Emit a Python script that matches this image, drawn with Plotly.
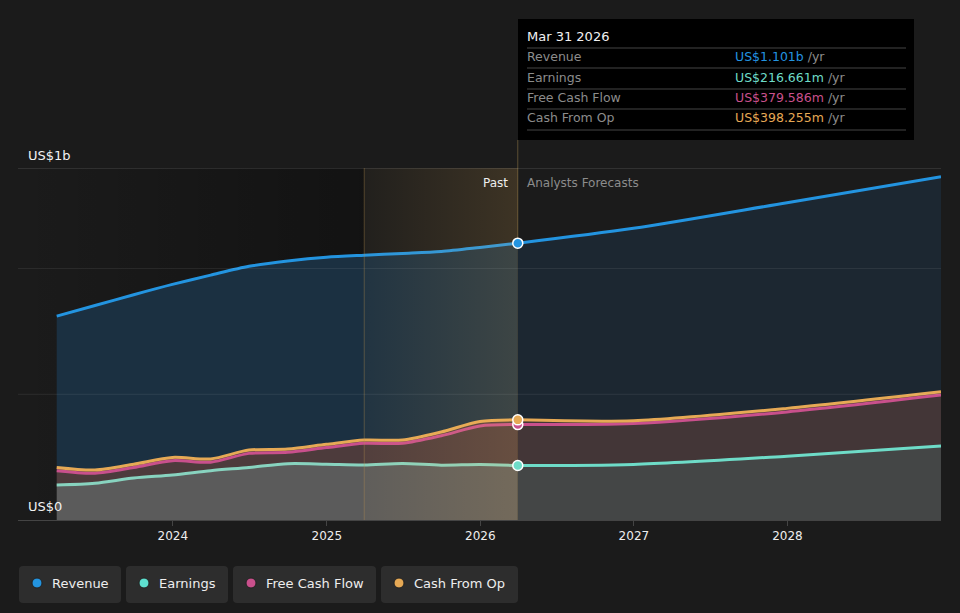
import pandas as pd
import plotly.graph_objects as go

# --- Data (US$ billions) ---
PAST_DATES = [
    "2023-03-31", "2023-06-30", "2023-09-30", "2023-12-31", "2024-03-31",
    "2024-06-30", "2024-09-30", "2024-12-31", "2025-03-31", "2025-06-30",
    "2025-09-30", "2025-12-31", "2026-03-31",
]
REVENUE_PAST = [0.811, 0.853, 0.896, 0.937, 0.974, 1.009, 1.030, 1.045, 1.053, 1.060, 1.068, 1.084, 1.101]
EARNINGS_PAST = [0.139, 0.146, 0.167, 0.179, 0.196, 0.209, 0.224, 0.222, 0.219, 0.225, 0.218, 0.221, 0.216661]
FCF_PAST = [0.196, 0.186, 0.209, 0.236, 0.230, 0.265, 0.269, 0.288, 0.305, 0.305, 0.335, 0.374, 0.379586]
CFO_PAST = [0.209, 0.199, 0.222, 0.249, 0.243, 0.278, 0.282, 0.301, 0.318, 0.318, 0.350, 0.392, 0.398255]

FORECAST_DATES = ["2026-03-31", "2026-12-31", "2027-12-31", "2028-12-31"]
REVENUE_FC = [1.101, 1.160, 1.262, 1.365]
EARNINGS_FC = [0.216661, 0.221, 0.254, 0.294]
FCF_FC = [0.379586, 0.384, 0.430, 0.497]
CFO_FC = [0.398255, 0.395, 0.444, 0.510]

YEAR_TICKS = ["2024-01-01", "2025-01-01", "2026-01-01", "2027-01-01", "2028-01-01"]
YEAR_LABELS = ["2024", "2025", "2026", "2027", "2028"]
SERIES = ["Revenue", "Earnings", "Free Cash Flow", "Cash From Op"]

X_RANGE = ["2022-12-29", "2028-12-31"]
Y_MAX = 1.4
PAST_START = "2025-03-31"   # start of highlighted "Past" window
NOW = PAST_DATES[-1]

# --- Colours ---
C_REV = "#2394e0"
C_EARN = "#6edcc8"
C_EARN_PAST = "#88d3bf"
C_FCF = "#c9508c"
C_CFO = "#e6a955"
BG = "#1b1b1b"
FONT = "DejaVu Sans"

# plot area in pixels
L, R, T, B = 18, 941, 168, 520
W, H = R - L, B - T


def px(x):
    return (x - L) / W


def py(y):
    return (B - y) / H


def fmt(v):
    return f"US${v:.3f}b" if v >= 1 else f"US${v * 1000:.3f}m"


fig = go.Figure()

# darker band behind the older history
fig.add_trace(go.Scatter(
    x=[X_RANGE[0], PAST_START, PAST_START, X_RANGE[0]], y=[0, 0, Y_MAX, Y_MAX],
    fill="toself", mode="none", hoverinfo="skip", showlegend=False,
    fillgradient=dict(type="horizontal", colorscale=[[0, "rgba(0,0,0,0)"], [1, "rgba(0,0,0,0.32)"]]),
))


def add_group(dates, earn, fcf, cfo, rev, fills, earn_line):
    common = dict(x=dates, mode="lines", hoverinfo="skip", showlegend=False,
                  line_shape="spline")
    fig.add_trace(go.Scatter(y=earn, fill="tozeroy", fillcolor=fills[0],
                             line=dict(color=earn_line, width=3, smoothing=0.8), **common))
    fig.add_trace(go.Scatter(y=fcf, fill="tonexty", fillcolor=fills[1],
                             line=dict(color=C_FCF, width=3, smoothing=0.8), **common))
    fig.add_trace(go.Scatter(y=cfo, fill="tonexty", fillcolor=fills[1],
                             line=dict(color=C_CFO, width=3, smoothing=0.8), **common))
    fig.add_trace(go.Scatter(y=rev, fill="tonexty", fillcolor=fills[2],
                             line=dict(color=C_REV, width=3, smoothing=0.8), **common))


add_group(PAST_DATES, EARNINGS_PAST, FCF_PAST, CFO_PAST, REVENUE_PAST,
          ["#5b5b5b", "#4d3b3c", "#1b3041"], C_EARN_PAST)
add_group(FORECAST_DATES, EARNINGS_FC, FCF_FC, CFO_FC, REVENUE_FC,
          ["#444646", "#433637", "#1c2731"], C_EARN)

# warm highlight over the last year of history
fig.add_trace(go.Scatter(
    x=[PAST_START, NOW, NOW, PAST_START], y=[0, 0, Y_MAX, Y_MAX],
    fill="toself", mode="none", hoverinfo="skip", showlegend=False,
    fillgradient=dict(type="horizontal",
                      colorscale=[[0, "rgba(255,190,90,0.03)"], [1, "rgba(255,190,90,0.15)"]]),
))

# markers at the current date
fig.add_trace(go.Scatter(
    x=[NOW] * 4,
    y=[REVENUE_PAST[-1], EARNINGS_PAST[-1], FCF_PAST[-1], CFO_PAST[-1]],
    mode="markers", hoverinfo="skip", showlegend=False,
    marker=dict(size=10, color=[C_REV, C_EARN, C_FCF, C_CFO],
                line=dict(color="white", width=1.5)),
))

shapes = []
for g in (0.5, 1.0):
    shapes.append(dict(type="line", xref="paper", yref="y", x0=0, x1=1, y0=g, y1=g,
                       line=dict(color="rgba(255,255,255,0.08)", width=1), layer="above"))
shapes.append(dict(type="line", xref="paper", yref="y", x0=0, x1=1, y0=Y_MAX, y1=Y_MAX,
                   line=dict(color="rgba(255,255,255,0.2)", width=1), layer="above"))
shapes.append(dict(type="line", xref="x", yref="y", x0=PAST_START, x1=PAST_START, y0=0, y1=Y_MAX,
                   line=dict(color="rgba(190,150,80,0.35)", width=1), layer="above"))
shapes.append(dict(type="line", xref="x", yref="paper", x0=NOW, x1=NOW, y0=0, y1=py(140),
                   line=dict(color="#5c4e33", width=1), layer="below"))

# tooltip box
shapes.append(dict(type="rect", xref="paper", yref="paper", x0=px(518), x1=px(914),
                   y0=py(140), y1=py(19), fillcolor="#000000", line=dict(width=0)))
for sy in (48, 68, 89, 109, 130):
    shapes.append(dict(type="line", xref="paper", yref="paper", x0=px(527), x1=px(906),
                       y0=py(sy), y1=py(sy), line=dict(color="#444444", width=1)))

annotations = [
    dict(text="US$1b", x=px(26), y=py(155)),
    dict(text="US$0", x=px(26), y=py(506)),
    dict(text="Past", x=px(510), y=py(183), xanchor="right", font=dict(color="#eeeeee", size=12)),
    dict(text="Analysts Forecasts", x=px(525), y=py(183), font=dict(color="#8c8c8c", size=12)),
    dict(text=pd.Timestamp(NOW).strftime("%b %d %Y"), x=px(525), y=py(36)),
]

tip_vals = [REVENUE_PAST[-1], EARNINGS_PAST[-1], FCF_PAST[-1], CFO_PAST[-1]]
tip_cols = [C_REV, C_EARN, C_FCF, C_CFO]
for i, (name, val, col) in enumerate(zip(SERIES, tip_vals, tip_cols)):
    ry = [57, 77, 98, 118][i]
    annotations.append(dict(text=name, x=px(525), y=py(ry), font=dict(color="#8c8c8c", size=12.5)))
    annotations.append(dict(text=f"<span style='color:{col}'>{fmt(val)}</span> /yr",
                            x=px(733), y=py(ry), font=dict(color="#8c8c8c", size=12.5)))


def rounded_rect(x0, y0, x1, y1, r=4):
    rx, ry = r / W, r / H
    a, b, c, d = px(x0), py(y1), px(x1), py(y0)
    return (f"M {a + rx},{b} L {c - rx},{b} Q {c},{b} {c},{b + ry} "
            f"L {c},{d - ry} Q {c},{d} {c - rx},{d} L {a + rx},{d} "
            f"Q {a},{d} {a},{d - ry} L {a},{b + ry} Q {a},{b} {a + rx},{b} Z")


# legend chips
legend_boxes = [(19, 121), (126, 228), (233, 376), (381, 518)]
legend_cols = [C_REV, "#5ee0cf", C_FCF, C_CFO]
for (bx0, bx1), name, col in zip(legend_boxes, SERIES, legend_cols):
    shapes.append(dict(type="path", xref="paper", yref="paper",
                       path=rounded_rect(bx0, 566, bx1, 603),
                       fillcolor="#2d2d2d", line=dict(width=0)))
    cx, cy, r = bx0 + 18, 583, 5
    shapes.append(dict(type="circle", xref="paper", yref="paper",
                       x0=px(cx - r), x1=px(cx + r), y0=py(cy + r), y1=py(cy - r),
                       fillcolor=col, line=dict(color="#222222", width=1)))
    annotations.append(dict(text=name, x=px(bx0 + 31), y=py(583),
                            font=dict(color="#eeeeee", size=13)))

for a in annotations:
    a.setdefault("xref", "paper")
    a.setdefault("yref", "paper")
    a.setdefault("xanchor", "left")
    a.setdefault("yanchor", "middle")
    a.setdefault("showarrow", False)
    a.setdefault("font", dict(color="#f2f2f2", size=13))
    a["font"].setdefault("family", FONT)

fig.update_layout(
    width=960,
    height=613,
    margin=dict(l=L, r=960 - R, t=T, b=613 - B),
    paper_bgcolor=BG,
    plot_bgcolor=BG,
    showlegend=False,
    font=dict(family=FONT, color="#d9d9d9"),
    xaxis=dict(
        type="date", range=X_RANGE, showgrid=False, zeroline=False,
        tickvals=YEAR_TICKS, ticktext=YEAR_LABELS,
        ticks="outside", ticklen=5, tickcolor="#444444",
        showline=True, linecolor="#444444", linewidth=1,
        tickfont=dict(family=FONT, size=12, color="#eeeeee"),
        layer="above traces", fixedrange=True,
    ),
    yaxis=dict(range=[0, Y_MAX], showgrid=False, zeroline=False,
               showticklabels=False, fixedrange=True),
    shapes=shapes,
    annotations=annotations,
)

# the page's default body margin would shift the figure
fig.write_html("out.html", config={"displayModeBar": False},
               post_script="document.body.style.margin='0';"
                           "document.body.style.background='" + BG + "';")
